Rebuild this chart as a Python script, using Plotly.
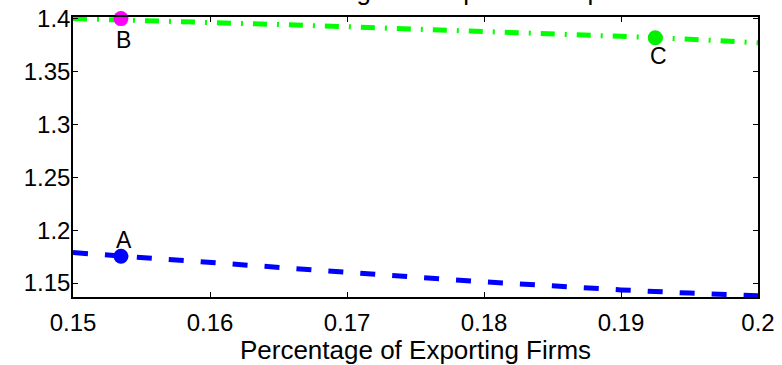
import plotly.graph_objects as go

# share of exporting firms on the horizontal axis
export_share = [0.150, 0.155, 0.160, 0.165, 0.170, 0.175, 0.180, 0.185, 0.190, 0.195, 0.200]
# two outcome curves
curve_low = [1.1788, 1.1740, 1.1688, 1.1645, 1.1600, 1.1555, 1.1512, 1.1472, 1.1435, 1.1405, 1.1380]
curve_high = [1.4000, 1.3985, 1.3965, 1.3944, 1.3923, 1.3903, 1.3881, 1.3857, 1.3832, 1.3805, 1.3771]

# labelled points
point_names = ["A", "B", "C"]
point_x = [0.1535, 0.1535, 0.1925]
point_y = [1.1753, 1.4000, 1.3819]
point_colors = ["#0000FF", "#FF00FF", "#00F000"]
label_dy = [16, -21, -18]   # vertical offset of each label from its point (px, up positive)

x_ticks = [0.15, 0.16, 0.17, 0.18, 0.19, 0.2]
x_tick_text = ["0.15", "0.16", "0.17", "0.18", "0.19", "0.2"]
y_ticks = [1.15, 1.2, 1.25, 1.3, 1.35, 1.4]
y_tick_text = ["1.15", "1.2", "1.25", "1.3", "1.35", "1.4"]

font_family = "Liberation Sans, Arial, sans-serif"

fig = go.Figure()
fig.add_trace(go.Scatter(
    x=export_share, y=curve_low, mode="lines",
    line=dict(color="#0000FF", width=5, dash="15px,17px"),
    showlegend=False, hoverinfo="skip"))
fig.add_trace(go.Scatter(
    x=export_share, y=curve_high, mode="lines",
    line=dict(color="#00FF00", width=5, dash="14px,10px,2px,10px"),
    showlegend=False, hoverinfo="skip"))
fig.add_trace(go.Scatter(
    x=point_x, y=point_y, mode="markers",
    marker=dict(color=point_colors, size=15, line=dict(width=0)),
    showlegend=False, hoverinfo="skip", cliponaxis=False))

for name, px, py, dy in zip(point_names, point_x, point_y, label_dy):
    fig.add_annotation(x=px, y=py, text=name, showarrow=False,
                       xanchor="center", yanchor="middle", xshift=3, yshift=dy,
                       font=dict(family=font_family, size=23, color="black"))

fig.update_layout(
    width=782, height=365,
    margin=dict(l=73, r=24, t=17, b=68, autoexpand=False),
    paper_bgcolor="white", plot_bgcolor="white",
    font=dict(family=font_family, size=24, color="black"),
    title=dict(text="Welfare Gains against Export Participation",
               x=0.53, xanchor="center", yref="container", y=1.0, yanchor="bottom",
               font=dict(family=font_family, size=26, color="black"),
               automargin=False),
    xaxis=dict(range=[0.15, 0.2], tickvals=x_ticks, ticktext=x_tick_text,
               ticks="inside", ticklen=5, tickcolor="black", tickwidth=1,
               showline=True, linecolor="black", linewidth=1.5, mirror="ticks",
               showgrid=False, zeroline=False, automargin=False,
               tickfont=dict(size=24), ticklabelstandoff=3,
               title=dict(text="Percentage of Exporting Firms", standoff=8,
                          font=dict(size=26))),
    yaxis=dict(range=[1.1368, 1.4015], tickvals=y_ticks, ticktext=y_tick_text,
               ticks="inside", ticklen=5, tickcolor="black", tickwidth=1,
               showline=True, linecolor="black", linewidth=1.5, mirror="ticks",
               showgrid=False, zeroline=False, automargin=False,
               tickfont=dict(size=24), ticklabelstandoff=-4),
)

fig.write_html("out.html")
